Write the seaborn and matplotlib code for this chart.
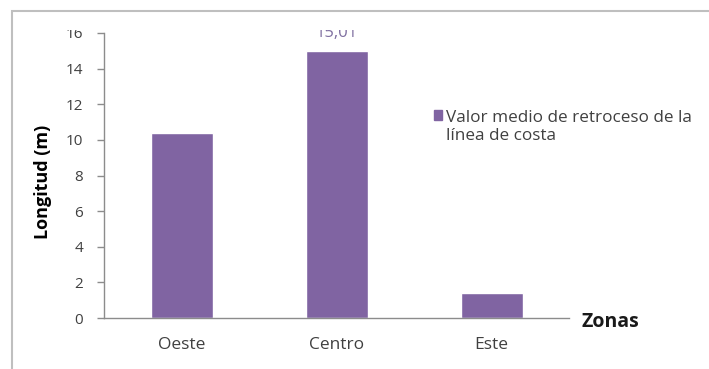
import matplotlib
matplotlib.use("Agg")
import matplotlib.pyplot as plt
import matplotlib.patches as mpatches
import seaborn as sns
import pandas as pd

zonas = ["Oeste", "Centro", "Este"]
valores = [10.4, 15.01, 1.4]
etiquetas = ["", "15,01", ""]
yticks = [0, 2, 4, 6, 8, 10, 12, 14, 16]
serie = "Valor medio de retroceso de la\nlínea de costa"

sns.set_style("white")
plt.rcParams["font.family"] = ["Open Sans", "DejaVu Sans"]

W, H = 709, 369
fig = plt.figure(figsize=(W / 100, H / 100), dpi=100)
ax = fig.add_axes([104 / W, 1 - 318 / H, (569 - 104) / W, (318 - 33) / H])

df = pd.DataFrame({"Zona": zonas, "Valor": valores})
bar_color = "#8064A2"
sns.barplot(data=df, x="Zona", y="Valor", color=bar_color, saturation=1,
            width=0.4, ax=ax)

ax.set_xlim(-0.5, 2.5)
ax.set_ylim(0, 16)
ax.set_yticks(yticks)
ax.set_xlabel("")
ax.set_ylabel("")

axis_col = "#8c8c8c"
txt_col = "#404040"
for s in ["top", "right"]:
    ax.spines[s].set_visible(False)
for s in ["left", "bottom"]:
    ax.spines[s].set_color(axis_col)
    ax.spines[s].set_linewidth(1.0)

ax.set_xticks([-0.5, 0.5, 1.5, 2.5], minor=True)
ax.tick_params(axis="x", which="major", length=0, pad=14, labelsize=12.5, labelcolor=txt_col)
ax.tick_params(axis="x", which="minor", length=5, width=1, color=axis_col, direction="out")
ax.tick_params(axis="y", length=5, width=1, color=axis_col, direction="out",
               pad=10, labelsize=11, labelcolor=txt_col, left=True)

ax.bar_label(ax.containers[0], labels=etiquetas, padding=7, fontsize=12,
             color="#7F6FA0")

fig.text(43 / W, 1 - 182 / H, "Longitud (m)", rotation=90, ha="center", va="center",
         fontsize=13, fontweight="bold", color="#000000")
fig.text(581 / W, 1 - 322 / H, "Zonas", ha="left", va="center",
         fontsize=14, fontweight="bold", color="#1a1a1a")

handle = mpatches.Patch(color=bar_color, label=serie)
leg = fig.legend(handles=[handle], loc="upper left", bbox_to_anchor=(427 / W, 1 - 103 / H),
                 frameon=False, fontsize=12.3, handlelength=0.5, handleheight=0.5,
                 handletextpad=0.2, labelcolor=txt_col, borderaxespad=0,
                 labelspacing=0.2)
for hp in leg._legend_handle_box.get_children():
    for row in hp.get_children():
        if hasattr(row, "align"):
            row.align = "top"

# white band that hides the top of the plot (as in the reference)
fig.add_artist(mpatches.Rectangle((13 / W, 1 - 30 / H), 1, 18 / H,
                                  transform=fig.transFigure, facecolor="white",
                                  edgecolor="none", zorder=10))
# outer chart frame
fig.add_artist(mpatches.Rectangle((12 / W, -0.1), 1, 1 - 11 / H + 0.1,
                                  transform=fig.transFigure, fill=False,
                                  edgecolor="#bfbfbf", linewidth=1.5, zorder=11))

fig.savefig("out.png", dpi=100)
